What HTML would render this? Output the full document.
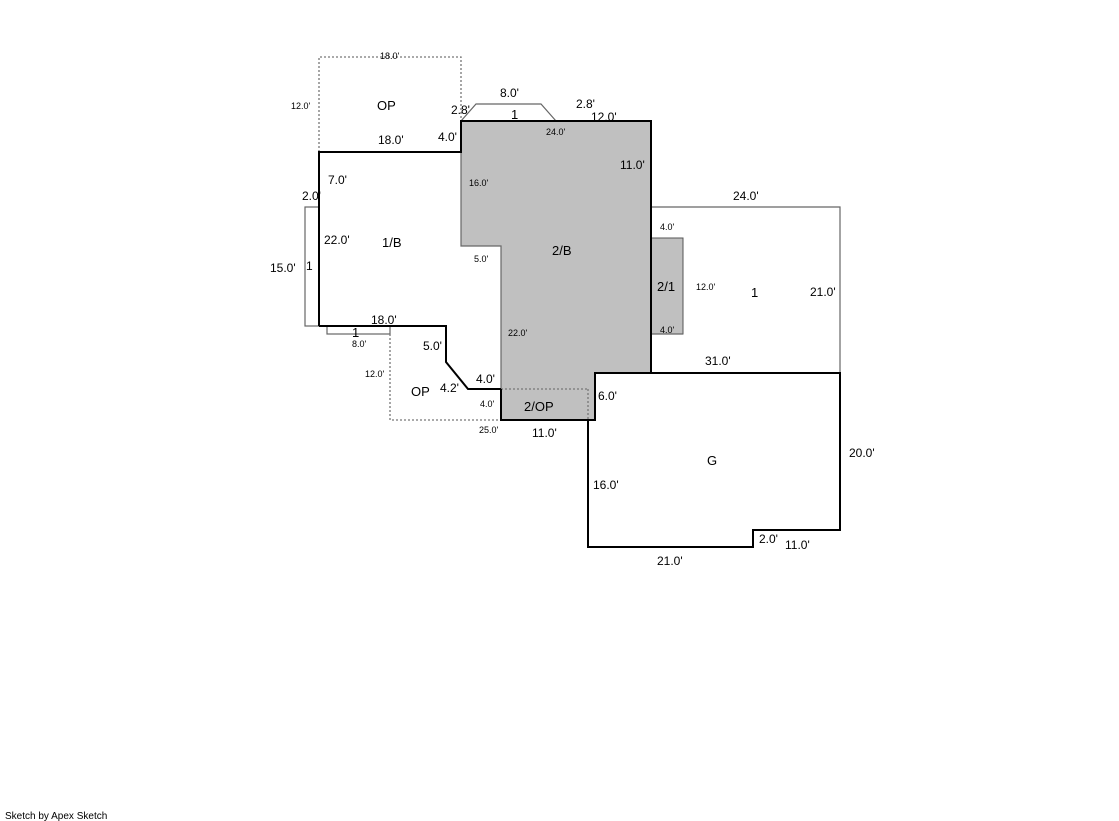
<!DOCTYPE html>
<html><head><meta charset="utf-8"><style>
html,body{margin:0;padding:0;background:#fff;width:1119px;height:821px;overflow:hidden}
text{font-family:"Liberation Sans",sans-serif;fill:#000}
.s{font-size:9px}.m{font-size:12px}.l{font-size:13px}
</style></head><body>
<svg width="1119" height="821" xmlns="http://www.w3.org/2000/svg">
<!-- gray fills -->
<polygon points="461,121 651,121 651,373 595,373 595,389 501,389 501,246 461,246" fill="#c0c0c0"/>
<rect x="501" y="389" width="94" height="31" fill="#c0c0c0"/>
<rect x="651" y="238" width="32" height="96" fill="#c0c0c0" stroke="#555" stroke-width="1"/>
<!-- thin gray lines -->
<g fill="none" stroke="#666" stroke-width="1.2">
<polyline points="461,121 476,104 541,104 556,121"/>
<polyline points="651,207 840,207 840,373"/>
<rect x="305" y="207" width="14" height="119"/>
<rect x="327" y="326" width="63" height="8"/>
<polyline points="461,121 461,246 501,246 501,389"/>
<line x1="651" y1="334" x2="683" y2="334"/>
</g>
<!-- dashed -->
<g fill="none" stroke="#777" stroke-width="1.3" stroke-dasharray="2,2">
<polyline points="319,152 319,57 461,57 461,121"/>
<polyline points="390,334 390,420 501,420"/>
<line x1="501" y1="389" x2="588" y2="389"/>
<line x1="588" y1="389" x2="588" y2="420"/>
</g>
<!-- thick black -->
<g fill="none" stroke="#000" stroke-width="2">
<polyline points="319,326 319,152 461,152 461,121 651,121 651,373"/>
<polyline points="319,326 446,326 446,362 468,389 501,389"/>
<polyline points="501,389 501,420 595,420 595,373 840,373 840,530 753,530 753,547 588,547 588,420"/>
</g>
<!-- labels -->
<text class="s" x="380" y="59">18.0'</text>
<text class="s" x="291" y="109">12.0'</text>
<text class="l" x="377" y="110">OP</text>
<text class="m" x="378" y="144">18.0'</text>
<text class="m" x="438" y="141">4.0'</text>
<text class="m" x="451" y="114">2.8'</text>
<text class="m" x="500" y="97">8.0'</text>
<text class="m" x="576" y="108">2.8'</text>
<text class="l" x="511" y="119">1</text>
<text class="s" x="546" y="135">24.0'</text>
<text class="m" x="591" y="121">12.0'</text>
<text class="m" x="620" y="169">11.0'</text>
<text class="s" x="469" y="186">16.0'</text>
<text class="m" x="328" y="184">7.0'</text>
<text class="m" x="302" y="200">2.0'</text>
<text class="m" x="324" y="244">22.0'</text>
<text class="l" x="382" y="247">1/B</text>
<text class="m" x="270" y="272">15.0'</text>
<text class="m" x="306" y="270">1</text>
<text class="s" x="474" y="262">5.0'</text>
<text class="l" x="552" y="255">2/B</text>
<text class="m" x="733" y="200">24.0'</text>
<text class="s" x="660" y="230">4.0'</text>
<text class="l" x="657" y="291">2/1</text>
<text class="s" x="696" y="290">12.0'</text>
<text class="l" x="751" y="297">1</text>
<text class="m" x="810" y="296">21.0'</text>
<text class="s" x="660" y="333">4.0'</text>
<text class="m" x="371" y="324">18.0'</text>
<text class="l" x="352" y="337">1</text>
<text class="s" x="352" y="347">8.0'</text>
<text class="s" x="508" y="336">22.0'</text>
<text class="m" x="423" y="350">5.0'</text>
<text class="m" x="705" y="365">31.0'</text>
<text class="s" x="365" y="377">12.0'</text>
<text class="m" x="476" y="383">4.0'</text>
<text class="m" x="440" y="392">4.2'</text>
<text class="l" x="411" y="396">OP</text>
<text class="m" x="598" y="400">6.0'</text>
<text class="s" x="480" y="407">4.0'</text>
<text class="l" x="524" y="411">2/OP</text>
<text class="s" x="479" y="433">25.0'</text>
<text class="m" x="532" y="437">11.0'</text>
<text class="m" x="849" y="457">20.0'</text>
<text class="l" x="707" y="465">G</text>
<text class="m" x="593" y="489">16.0'</text>
<text class="m" x="759" y="543">2.0'</text>
<text class="m" x="785" y="549">11.0'</text>
<text class="m" x="657" y="565">21.0'</text>
<text x="5" y="819" style="font-size:10px">Sketch by Apex Sketch</text>
</svg>
</body></html>
